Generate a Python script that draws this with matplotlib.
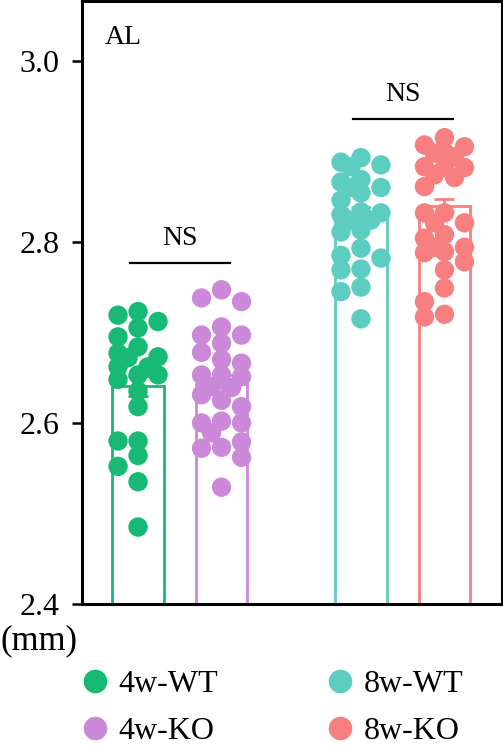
import numpy as np
import matplotlib
matplotlib.use("Agg")
import matplotlib.pyplot as plt
from matplotlib.lines import Line2D

# ---------------- data ----------------
groups = ["4w-WT", "4w-KO", "8w-WT", "8w-KO"]
colors = ["#17b975", "#cd89d9", "#5ecdc1", "#f87f7f"]

wt4 = [2.719, 2.723, 2.712, 2.705, 2.695, 2.684, 2.677, 2.673, 2.672, 2.662, 2.662,
       2.653, 2.653, 2.648, 2.635, 2.618, 2.580, 2.580, 2.564, 2.552, 2.535, 2.485]
ko4 = [2.747, 2.738, 2.734, 2.706, 2.697, 2.697, 2.688, 2.678, 2.670, 2.666, 2.653,
       2.651, 2.653, 2.639, 2.640, 2.631, 2.625, 2.618, 2.600, 2.602, 2.600, 2.589,
       2.579, 2.572, 2.573, 2.562, 2.529]
wt8 = [2.893, 2.888, 2.883, 2.885, 2.869, 2.866, 2.860, 2.860, 2.854, 2.846, 2.833,
       2.830, 2.832, 2.824, 2.824, 2.813, 2.811, 2.793, 2.782, 2.785, 2.769, 2.770,
       2.745, 2.750, 2.715]
ko8 = [2.915, 2.907, 2.905, 2.899, 2.898, 2.894, 2.882, 2.882, 2.883, 2.874, 2.871,
       2.861, 2.832, 2.832, 2.821, 2.821, 2.804, 2.808, 2.794, 2.794, 2.789, 2.788,
       2.778, 2.769, 2.749, 2.734, 2.717, 2.720]
values = [wt4, ko4, wt8, ko8]

means = [2.641, 2.643, 2.830, 2.840]
sems = [0.011, 0.010, 0.009, 0.007]

sig_pairs = [(0, 1), (2, 3)]
sig_levels = [2.777, 2.936]
sig_labels = ["NS", "NS"]

panel_label = "AL"
unit_label = "(mm)"
yticks = [2.4, 2.6, 2.8, 3.0]
ylim = (2.4, 3.066)

# ---------------- style ----------------
plt.rcParams['font.family'] = ['Liberation Serif', 'DejaVu Serif']
W, H, DPI = 503, 749, 100
fig = plt.figure(figsize=(W / DPI, H / DPI), dpi=DPI)
ax = fig.add_axes([82 / W, 1 - 604 / H, 420 / W, 603 / H])

pos = np.array([0.0, 1.0, 2.67, 3.67])
ax.set_xlim(-0.671, 4.359)
ax.set_ylim(*ylim)
bar_w = 0.62

for i in range(4):
    ax.bar(pos[i], means[i] - ylim[0], bottom=ylim[0], width=bar_w,
           facecolor="white", edgecolor=colors[i], linewidth=2.0, zorder=2)
    ax.errorbar(pos[i], means[i], yerr=sems[i], color=colors[i], capsize=7,
                capthick=2, elinewidth=2, zorder=3)

# swarm offsets computed in display space
fig.canvas.draw()
trans = ax.transData
inv = trans.inverted()
diam = 19.0
cands = [0, -20, 20, -10, 10]
for i in range(4):
    vals = np.array(values[i])
    order = np.argsort(-vals)
    placed = []
    xs = np.zeros(len(vals))
    for k in order:
        cx, cy = trans.transform((pos[i], vals[k]))
        best = None
        bestd = -1
        for c in cands:
            if placed:
                d = min(np.hypot(cx + c - px, cy - py) for px, py in placed)
            else:
                d = 1e9
            if d >= 0.75 * diam:
                best = c
                break
            if d > bestd:
                bestd = d
                best = c
        placed.append((cx + best, cy))
        xs[k] = inv.transform((cx + best, cy))[0]
    ax.scatter(xs, vals, s=195, color=colors[i], edgecolors='none', zorder=4)

for (a, b), lvl, lab in zip(sig_pairs, sig_levels, sig_labels):
    mid = (pos[a] + pos[b]) / 2
    ax.plot([mid - 0.6, mid + 0.6], [lvl, lvl], color="black", lw=1.6, zorder=5)
    ax.text(mid, lvl + 0.013, lab, ha="center", va="bottom", fontsize=20)

ax.text(0.055, 0.96, panel_label, transform=ax.transAxes, ha="left", va="top", fontsize=20)

ax.set_yticks(yticks)
ax.set_yticklabels([f"{t:.1f}" for t in yticks])
ax.set_xticks([])
ax.tick_params(axis='y', length=7, width=1.8, pad=9, labelsize=23)
for s in ax.spines.values():
    s.set_linewidth(2.2)

fig.text(0.0, 1 - 641 / H, unit_label, ha="left", va="center", fontsize=25)

handles = [Line2D([], [], marker='o', ls='none', color=c, markersize=16) for c in colors]
leg = fig.legend(handles, groups, ncol=2, loc="center left",
                 bbox_to_anchor=(50 / W, 1 - 708 / H), frameon=False, fontsize=23,
                 handletextpad=0.25, columnspacing=3.3, labelspacing=0.55,
                 handlelength=1.0)

fig.savefig("out.png", dpi=DPI)
